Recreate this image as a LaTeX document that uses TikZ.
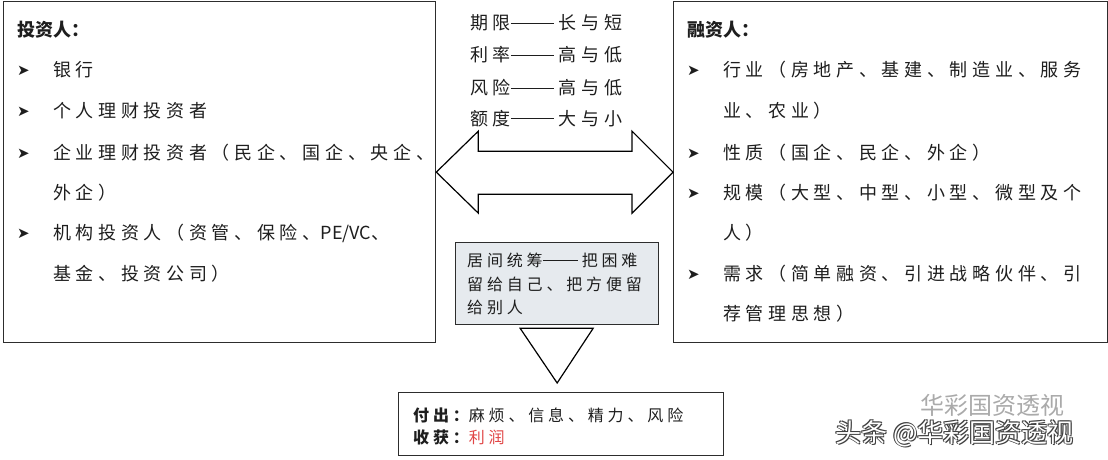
\documentclass[tikz,border=0pt]{standalone}
\usepackage{fontspec}
\usetikzlibrary{calc}
\newfontfamily\cjk[LetterSpace=26]{Noto Sans CJK SC}
\newfontfamily\cjkmid[LetterSpace=24]{Noto Sans CJK SC}
\newfontfamily\cjkhead{Noto Sans CJK SC}
\newfontfamily\cjkplain{Noto Sans CJK SC}
\newfontfamily\dejavu{DejaVu Sans}
\definecolor{boxline}{RGB}{45,45,45}
\definecolor{txtcol}{RGB}{30,30,30}
\definecolor{midfill}{RGB}{230,234,238}
\definecolor{redtxt}{RGB}{225,70,70}
\definecolor{wmgray}{RGB}{170,170,170}
\newcommand{\dashrule}{\rule[0.36em]{2.4em}{0.6pt}\hspace{0.26em}}
\newcommand{\dashrulesm}{\rule[0.36em]{2.2em}{0.6pt}\hspace{0.24em}}
\begin{document}
\begin{tikzpicture}[x=1pt,y=-1pt,
  box/.style={draw=boxline,line width=1.3pt,inner sep=0pt,anchor=north west},
  txt/.style={inner sep=0pt,anchor=base west,text=txtcol,font=\fontsize{18}{20}\cjk},
  head/.style={inner sep=0pt,anchor=base west,text=txtcol,font=\fontsize{18}{20}\cjkhead\bfseries},
  midtxt/.style={inner sep=0pt,anchor=base west,text=txtcol,font=\fontsize{18}{20}\cjk},
  smalltxt/.style={inner sep=0pt,anchor=base west,text=txtcol,font=\fontsize{16}{18}\cjkmid},
  bul/.style={inner sep=0pt,anchor=base west,text=txtcol,font=\fontsize{15}{16}\dejavu},
  shapeline/.style={draw=black,line width=1.2pt,line join=miter}]
\useasboundingbox[fill=white] (0,0) rectangle (1108,460);

% boxes
\node[box,minimum width=432pt,minimum height=341pt] (inv) at (3,1) {};
\node[box,minimum width=434pt,minimum height=341pt] (fin) at (673,1) {};
\node[box,fill=midfill,minimum width=203pt,minimum height=82pt] (mid) at (455,242) {};
\node[box,minimum width=325pt,minimum height=63pt] (res) at (398,392) {};

% double arrow between the boxes
\draw[shapeline] (inv.east) -- ++(42,-41) -- ++(0,20) -- ($(fin.west)+(-41,-21)$)
  -- ++(0,-20) -- (fin.west) -- ++(-41,41) -- ++(0,-19) -- ($(inv.east)+(42,22)$)
  -- ++(0,19) -- cycle;

% down triangle
\draw[shapeline] ($(mid.south)+(-37,3)$) -- ($(mid.south)+(36,3)$) -- ($(res.north)+(-4,-9)$) -- cycle;

% left box
\node[head] (invh) at (17,37) {投资人：};
\node[bul] (ib1) at (17,76) {➤};
\node[txt] (it1) at (53,77) {银行};
\node[bul] (ib2) at (17,116) {➤};
\node[txt] (it2) at (53,117) {个人理财投资者};
\node[bul] (ib3) at (17,158) {➤};
\node[txt] (it3) at (53,159) {企业理财投资者（民企、国企、央企、};
\node[txt] (it3b) at (53,199) {外企）};
\node[bul] (ib4) at (17,238) {➤};
\node[txt] (it4) at (53,239) {机构投资人（资管、保险、{\cjkplain PE/VC}、};
\node[txt] (it4b) at (53,280) {基金、投资公司）};

% right box
\node[head] (finh) at (687,37) {融资人：};
\node[bul] (fb1) at (687,76) {➤};
\node[txt] (ft1) at (723,77) {行业（房地产、基建、制造业、服务};
\node[txt] (ft1b) at (723,117) {业、农业）};
\node[bul] (fb2) at (687,158) {➤};
\node[txt] (ft2) at (723,159) {性质（国企、民企、外企）};
\node[bul] (fb3) at (687,198) {➤};
\node[txt] (ft3) at (723,199) {规模（大型、中型、小型、微型及个};
\node[txt] (ft3b) at (723,239) {人）};
\node[bul] (fb4) at (687,279) {➤};
\node[txt] (ft4) at (723,280) {需求（简单融资、引进战略伙伴、引};
\node[txt] (ft4b) at (723,320) {荐管理思想）};

% middle comparison text
\node[midtxt] (m1) at (470,30) {期限\dashrule 长与短};
\node[midtxt] (m2) at (470,62) {利率\dashrule 高与低};
\node[midtxt] (m3) at (470,95) {风险\dashrule 高与低};
\node[midtxt] (m4) at (470,125) {额度\dashrule 大与小};

% middle box text
\node[smalltxt] (c1) at (467,266) {居间统筹\dashrulesm 把困难};
\node[smalltxt] (c2) at (467,290) {留给自己、把方便留};
\node[smalltxt] (c3) at (467,313) {给别人};

% result box text
\node[smalltxt] (r1) at (413,421) {{\bfseries 付出：}麻烦、信息、精力、风险};
\node[smalltxt] (r2) at (413,443) {{\bfseries 收获：}\textcolor{redtxt}{利润}};

% watermark
\node[inner sep=0pt,anchor=base west,text=wmgray,font=\fontsize{24}{26}\cjkplain] (wm1) at (920,414) {华彩国资透视};
\foreach \dx/\dy [count=\i] in {1.2/1.2,-0.8/0.8,0.8/-0.8,-0.8/-0.8} {
  \node[inner sep=0pt,anchor=base west,text=black!75,font=\fontsize{26}{28}\cjkplain] (wms\i) at (835+\dx,442+\dy) {头条 @华彩国资透视};
}
\node[inner sep=0pt,anchor=base west,text=white,font=\fontsize{26}{28}\cjkplain] (wm2) at (835,442) {头条 @华彩国资透视};
\end{tikzpicture}
\end{document}
